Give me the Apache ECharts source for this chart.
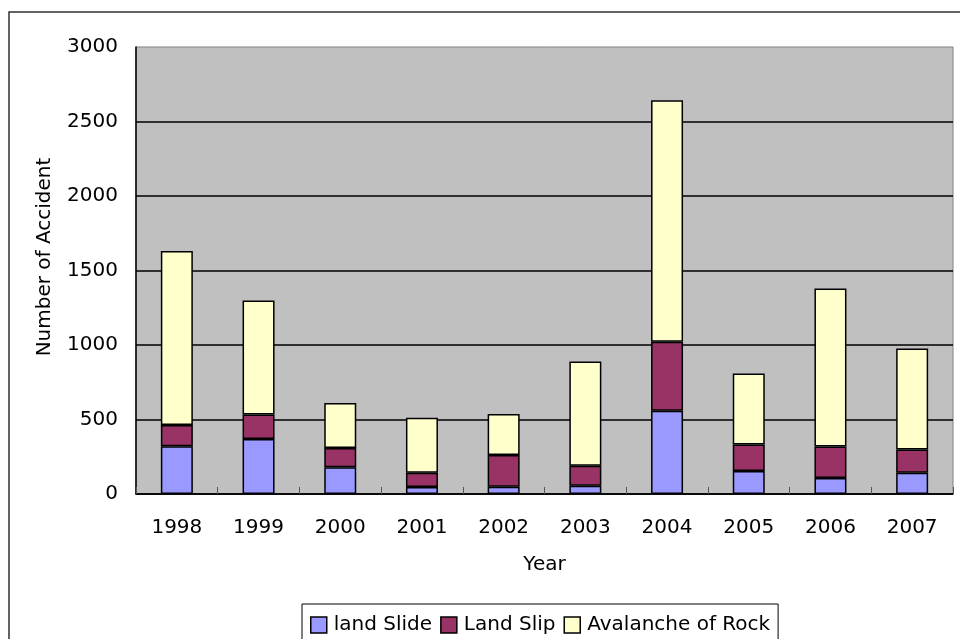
<!DOCTYPE html>
<html>
<head>
<meta charset="utf-8">
<script src="https://cdn.jsdelivr.net/npm/echarts@6/dist/echarts.min.js"></script>
<style>
  html, body { margin: 0; padding: 0; background: #ffffff; }
  #chart { width: 960px; height: 639px; }
</style>
</head>
<body>
<div id="chart"></div>
<script>
// Accidents per year, split by type (stacked)
const years = ['1998', '1999', '2000', '2001', '2002', '2003', '2004', '2005', '2006', '2007'];
const landSlide = [320, 369, 179, 47, 49, 56, 559, 154, 107, 143];
const landSlip = [143, 165, 130, 96, 213, 134, 463, 179, 212, 156];
const avalancheOfRock = [1168, 765, 302, 369, 275, 700, 1620, 476, 1061, 678];
const yTicks = [0, 500, 1000, 1500, 2000, 2500, 3000];

const FONT = 'DejaVu Sans';
const chart = echarts.init(document.getElementById('chart'), null, { renderer: 'canvas' });

function barSeries(name, data, color) {
  return {
    name: name,
    type: 'bar',
    stack: 'total',
    data: data,
    barWidth: 32,
    itemStyle: { color: color, borderColor: '#000000', borderWidth: 1.5 },
    emphasis: { disabled: true }
  };
}

chart.setOption({
  animation: false,
  backgroundColor: '#ffffff',
  textStyle: { fontFamily: FONT, color: '#000000' },
  graphic: [
    {
      type: 'rect',
      shape: { x: 9, y: 12, width: 1000, height: 700 },
      style: { fill: null, stroke: '#303030', lineWidth: 1.5 },
      silent: true
    },
    {
      type: 'text',
      x: 45, y: 257,
      rotation: Math.PI / 2,
      style: {
        text: 'Number of Accident',
        font: '20px "DejaVu Sans"',
        fill: '#000000',
        align: 'center',
        verticalAlign: 'middle'
      },
      silent: true
    }
  ],
  grid: {
    left: 136, right: 7, top: 47, bottom: 145,
    show: true,
    backgroundColor: '#C0C0C0',
    borderColor: '#808080',
    borderWidth: 1
  },
  legend: {
    data: ['land Slide', 'Land Slip', 'Avalanche of Rock'],
    left: 302, top: 604,
    orient: 'horizontal',
    padding: [11, 8, 40, 8],
    itemWidth: 16, itemHeight: 16, itemGap: 8,
    icon: 'rect',
    borderColor: '#000000', borderWidth: 1,
    backgroundColor: '#ffffff',
    itemStyle: { borderColor: '#000000', borderWidth: 1.5 },
    textStyle: { fontFamily: FONT, fontSize: 20, color: '#000000', padding: [0, 0, 0, 2] },
    selectedMode: false
  },
  xAxis: {
    type: 'category',
    data: years,
    boundaryGap: true,
    name: 'Year',
    nameLocation: 'middle',
    nameGap: 61,
    nameTextStyle: { fontFamily: FONT, fontSize: 20, color: '#000000' },
    axisLine: { lineStyle: { color: '#000000', width: 1.5 } },
    axisTick: { show: true, inside: true, length: 7, lineStyle: { color: '#555555', width: 1 } },
    axisLabel: { fontFamily: FONT, fontSize: 20, color: '#000000', margin: 24, interval: 0 },
    splitLine: { show: false }
  },
  yAxis: {
    type: 'value',
    min: yTicks[0],
    max: yTicks[yTicks.length - 1],
    interval: 500,
    axisLine: { show: true, lineStyle: { color: '#000000', width: 1.5 } },
    axisTick: { show: false },
    axisLabel: {
      fontFamily: FONT, fontSize: 20, color: '#000000', margin: 18,
      formatter: function (v) { return String(v); }
    },
    splitLine: { show: true, showMaxLine: false, lineStyle: { color: '#000000', width: 1.5 } }
  },
  series: [
    barSeries('land Slide', landSlide, '#9999FF'),
    barSeries('Land Slip', landSlip, '#993366'),
    barSeries('Avalanche of Rock', avalancheOfRock, '#FFFFCC')
  ]
});
</script>
</body>
</html>
